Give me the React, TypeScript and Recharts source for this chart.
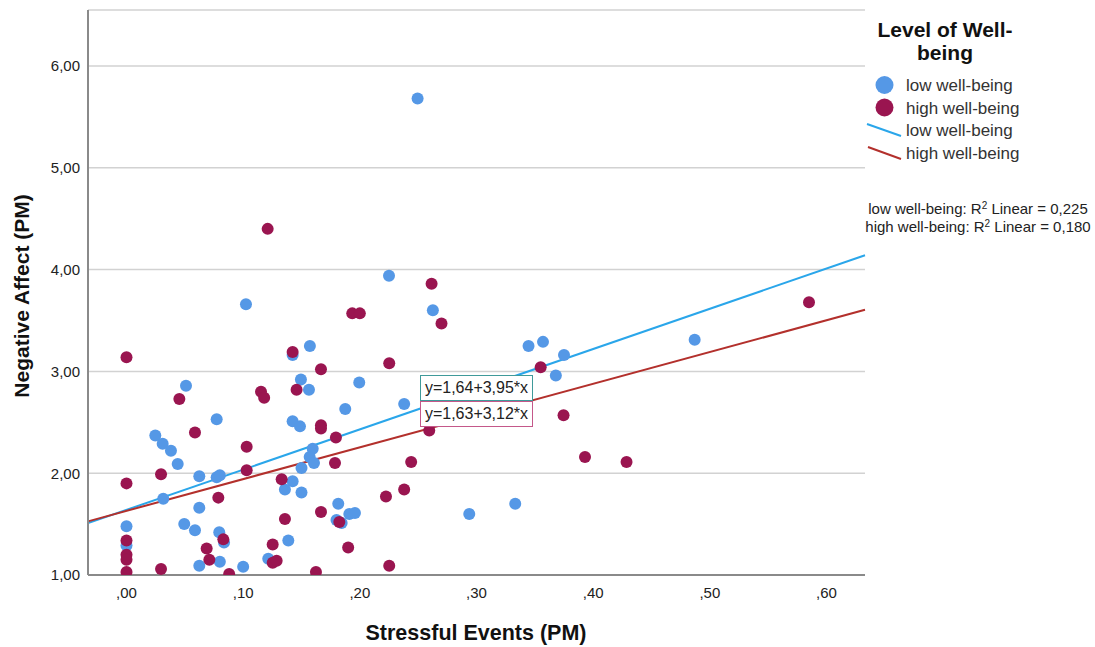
import { CartesianGrid, ReferenceLine, Scatter, ScatterChart, XAxis, YAxis } from "recharts";

// Stressful events (x) and negative affect (y)
const lowX = [
  0.2495, 0.225, 0.2626, 0.1024, 0.3446, 0.357, 0.375, 0.368, 0.487, 0.238, 0.2938, 0.3332, 0.1572, 0.1424,
  0.051, 0.1495, 0.1564, 0.1995, 0.1875, 0.0773, 0.0247, 0.031, 0.0381, 0.0439, 0.1424, 0.1487, 0.1596, 0.157,
  0.1607, 0.15, 0.0624, 0.0773, 0.08, 0.1424, 0.1358, 0.15, 0.0315, 0.0624, 0.1815, 0.191, 0.1958, 0.18, 0.1844,
  0, 0.0495, 0.0587, 0.0795, 0.0836, 0, 0.0624, 0.08, 0.1, 0.1387, 0.1215,
];
const lowY = [
  5.68, 3.94, 3.6, 3.66, 3.25, 3.29, 3.16, 2.96, 3.31, 2.68, 1.6, 1.7, 3.25, 3.16,
  2.86, 2.92, 2.82, 2.89, 2.63, 2.53, 2.37, 2.29, 2.22, 2.09, 2.51, 2.46, 2.24, 2.16,
  2.1, 2.05, 1.97, 1.96, 1.98, 1.92, 1.84, 1.81, 1.75, 1.66, 1.7, 1.6, 1.61, 1.54, 1.51,
  1.48, 1.5, 1.44, 1.42, 1.32, 1.29, 1.09, 1.13, 1.08, 1.34, 1.16,
];
const highX = [
  0.121, 0.2615, 0.27, 0.1935, 0.2, 0.585, 0.355, 0.2595, 0.244, 0.238, 0.3746, 0.393, 0.4286, 0,
  0.1424, 0.1667, 0.2252, 0.0453, 0.1153, 0.118, 0.1458, 0.0587, 0.103, 0.1667, 0.1667, 0.1795, 0.1787,
  0, 0.0296, 0.103, 0.133, 0.0787, 0.2224, 0.1667, 0.1824, 0.1358, 0.083, 0, 0, 0, 0,
  0.0687, 0.071, 0.088, 0.0296, 0.1253, 0.1253, 0.1287, 0.1624, 0.19, 0.2252,
];
const highY = [
  4.4, 3.86, 3.47, 3.57, 3.57, 3.68, 3.04, 2.42, 2.11, 1.84, 2.57, 2.16, 2.11, 3.14,
  3.19, 3.02, 3.08, 2.73, 2.8, 2.74, 2.82, 2.4, 2.26, 2.47, 2.44, 2.35, 2.1,
  1.9, 1.99, 2.03, 1.94, 1.76, 1.77, 1.62, 1.52, 1.55, 1.35, 1.34, 1.2, 1.15, 1.03,
  1.26, 1.15, 1.01, 1.06, 1.3, 1.12, 1.14, 1.03, 1.27, 1.09,
];

const xTicks = [0, 0.1, 0.2, 0.3, 0.4, 0.5, 0.6];
const yTicks = [1, 2, 3, 4, 5, 6];
const xDomain = [-0.033, 0.633];
const yDomain = [1, 6.55];

// fit lines: [intercept, slope]
const lowFit = [1.64, 3.95];
const highFit = [1.63, 3.12];

const BLUE = "#5598e6";
const RED = "#9a1550";
const BLUE_LINE = "#2aa6ea";
const RED_LINE = "#b3302c";
const FONT = "'Liberation Sans', Arial, sans-serif";

const lowData = lowX.map((x, i) => ({ x, y: lowY[i] }));
const highData = highX.map((x, i) => ({ x, y: highY[i] }));

const comma = (v: number) => {
  const s = v.toFixed(2).replace(".", ",");
  return s.startsWith("0,") ? s.slice(1) : s;
};
const xFmt = (v: number) => comma(v);
const yFmt = (v: number) => v.toFixed(2).replace(".", ",");

const fitSegment = (fit: number[]) =>
  xDomain.map((x) => ({ x, y: fit[0] + fit[1] * x }));

const dot = (fill: string) => (p: any) => <circle cx={p.cx} cy={p.cy} r={6} fill={fill} />;

const eqBox = (top: number, border: string, text: string) => (
  <div
    style={{
      position: "absolute",
      left: 420,
      top,
      width: 111,
      height: 24,
      border: `1.5px solid ${border}`,
      background: "#fff",
      fontSize: 16,
      lineHeight: "24px",
      textAlign: "center",
      color: "#222",
    }}
  >
    {text}
  </div>
);

export default function App() {
  return (
    <div style={{ position: "absolute", left: 0, top: 0, width: 1095, height: 647, background: "#fff", fontFamily: FONT }}>
      <ScatterChart width={1095} height={647} margin={{ top: 10, right: 230, bottom: 0, left: 0 }}>
        <CartesianGrid vertical={false} stroke="#d2d2d2" strokeWidth={1.5} />
        <XAxis
          type="number"
          dataKey="x"
          domain={xDomain}
          ticks={xTicks}
          tickFormatter={xFmt}
          allowDataOverflow
          height={72}
          axisLine={{ stroke: "#8a8a8a", strokeWidth: 2 }}
          tickLine={false}
          tickMargin={6}
          tick={{ fill: "#222", fontSize: 15, fontFamily: FONT }}
        />
        <YAxis
          type="number"
          dataKey="y"
          domain={yDomain}
          ticks={yTicks}
          tickFormatter={yFmt}
          allowDataOverflow
          width={88}
          axisLine={{ stroke: "#8a8a8a", strokeWidth: 2 }}
          tickLine={false}
          tick={{ fill: "#222", fontSize: 15, fontFamily: FONT }}
        />
        <Scatter data={lowData} shape={dot(BLUE)} isAnimationActive={false} />
        <Scatter data={highData} shape={dot(RED)} isAnimationActive={false} />
        <ReferenceLine segment={fitSegment(lowFit)} stroke={BLUE_LINE} strokeWidth={2} />
        <ReferenceLine segment={fitSegment(highFit)} stroke={RED_LINE} strokeWidth={2} />
      </ScatterChart>

      {eqBox(375, "#3f9a9a", "y=1,64+3,95*x")}
      {eqBox(401, "#c4588a", "y=1,63+3,12*x")}

      <div
        style={{
          position: "absolute",
          left: 22,
          top: 296,
          transform: "translate(-50%, -50%) rotate(-90deg)",
          whiteSpace: "nowrap",
          fontWeight: "bold",
          fontSize: 21,
          color: "#111",
        }}
      >
        Negative Affect (PM)
      </div>
      <div
        style={{
          position: "absolute",
          left: 476,
          top: 633,
          transform: "translate(-50%, -50%)",
          whiteSpace: "nowrap",
          fontWeight: "bold",
          fontSize: 21.5,
          color: "#111",
        }}
      >
        Stressful Events (PM)
      </div>

      <div
        style={{
          position: "absolute",
          left: 845,
          top: 18,
          width: 200,
          textAlign: "center",
          fontWeight: "bold",
          fontSize: 21,
          lineHeight: "23px",
          color: "#111",
        }}
      >
        Level of Well-
        <br />
        being
      </div>

      <svg style={{ position: "absolute", left: 860, top: 70 }} width={50} height={100}>
        <circle cx={24.5} cy={15} r={9} fill={BLUE} />
        <circle cx={24.5} cy={37.5} r={9} fill={RED} />
        <line x1={7} y1={54} x2={41} y2={66} stroke={BLUE_LINE} strokeWidth={2} />
        <line x1={8} y1={77} x2={41} y2={89} stroke={RED_LINE} strokeWidth={2} />
      </svg>
      {["low well-being", "high well-being", "low well-being", "high well-being"].map((t, i) => (
        <div
          key={i}
          style={{
            position: "absolute",
            left: 906,
            top: 86 + i * 22.5,
            transform: "translateY(-50%)",
            fontSize: 17,
            color: "#333",
            whiteSpace: "nowrap",
          }}
        >
          {t}
        </div>
      ))}

      {[
        ["low well-being", "0,225"],
        ["high well-being", "0,180"],
      ].map(([g, r], i) => (
        <div
          key={g}
          style={{
            position: "absolute",
            left: 978,
            top: 208 + i * 18,
            transform: "translate(-50%, -50%)",
            fontSize: 15,
            color: "#222",
            whiteSpace: "nowrap",
          }}
        >
          {g}: R<sup style={{ fontSize: 10, verticalAlign: "5px" }}>2</sup> Linear = {r}
        </div>
      ))}
    </div>
  );
}
